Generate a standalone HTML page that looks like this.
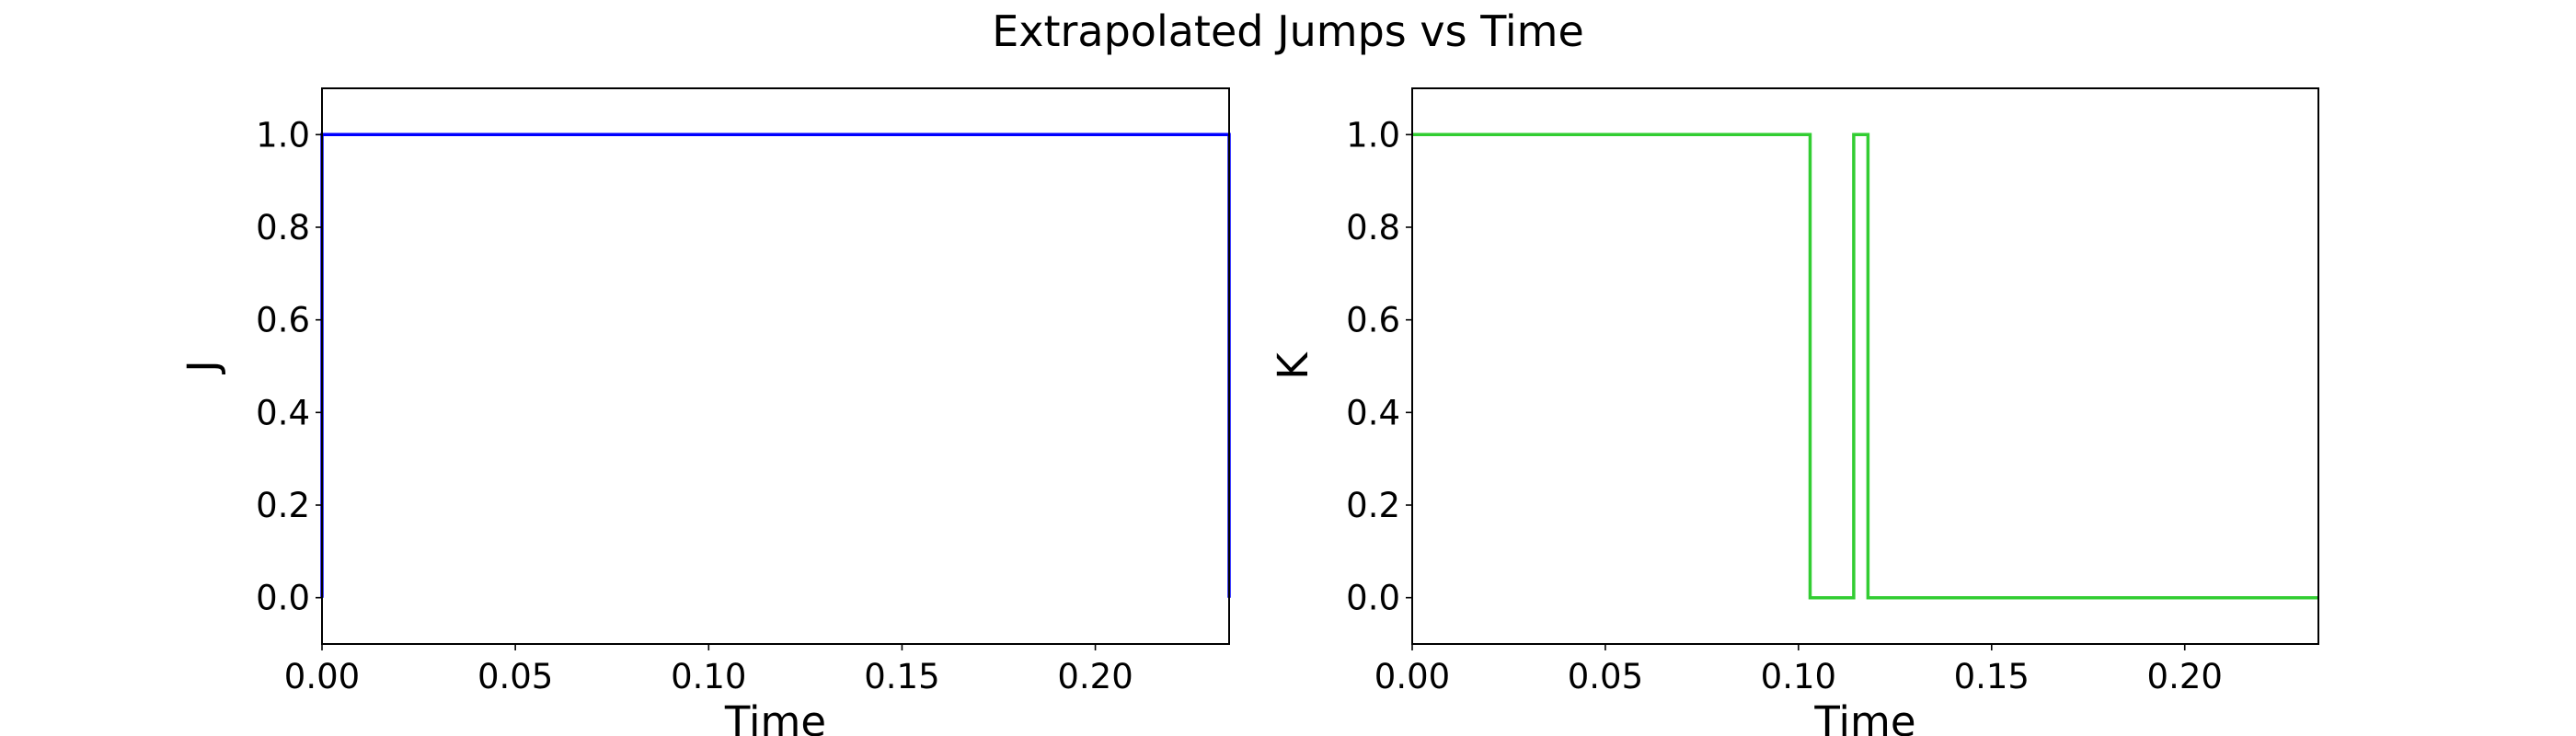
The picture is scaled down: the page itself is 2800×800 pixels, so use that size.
<!DOCTYPE html>
<html><head><meta charset="utf-8"><style>
body{margin:0;background:#fff}
svg{display:block;font-family:"DejaVu Sans","Liberation Sans",sans-serif}
</style></head><body>
<svg id="chart" width="2800" height="800" xmlns="http://www.w3.org/2000/svg">
<text x="1400" y="50" text-anchor="middle" font-size="46">Extrapolated Jumps vs Time</text>
</svg>
<script>
const xTicks=[0,0.05,0.10,0.15,0.20];
const xTickLabels=["0.00","0.05","0.10","0.15","0.20"];
const yTicks=[0,0.2,0.4,0.6,0.8,1.0];
const yTickLabels=["0.0","0.2","0.4","0.6","0.8","1.0"];
const jTimes=[0,0,0.2346,0.2346];
const jValues=[0,1,1,0];
const kTimes=[0,0.103,0.103,0.1143,0.1143,0.118,0.118,0.2346];
const kValues=[1,1,0,0,1,1,0,0];
const xMax=0.2346, yMin=-0.1, yMax=1.1;
const NS="http://www.w3.org/2000/svg";
const svg=document.getElementById('chart');
function mk(tag,attrs,parent){const e=document.createElementNS(NS,tag);for(const k in attrs)e.setAttribute(k,attrs[k]);(parent||svg).appendChild(e);return e;}
function panel(prefix,L,R,T,B,times,vals,color,ylabel){
  const sx=v=>L+(v/xMax)*(R-L);
  const sy=v=>B-(v-yMin)/(yMax-yMin)*(B-T);
  const g=mk('g',{});
  
  
  let d='';
  times.forEach((t,i)=>{d+=(i?'L':'M')+sx(t).toFixed(1)+' '+sy(vals[i]).toFixed(1)+' ';});
  const p=mk('path',{d:d,fill:'none',stroke:color,'stroke-width':3.5},g);
  
  
  const f=mk('rect',{x:L,y:T,width:R-L,height:B-T,fill:'none',stroke:'#000','stroke-width':2},g);
  
  
  xTicks.forEach((t,i)=>{
    const x=sx(t);
    mk('line',{x1:x,x2:x,y1:B,y2:B+7,stroke:'#000','stroke-width':1.6},g);
    const tx=mk('text',{x:x,y:B+48,'text-anchor':'middle','font-size':37},g);
    tx.textContent=xTickLabels[i];
    
    
  });
  yTicks.forEach((t,i)=>{
    const y=sy(t);
    mk('line',{x1:L-7,x2:L,y1:y,y2:y,stroke:'#000','stroke-width':1.6},g);
    const tx=mk('text',{x:L-13,y:y+13,'text-anchor':'end','font-size':37},g);
    tx.textContent=yTickLabels[i];
    
    
  });
  const xl=mk('text',{x:(L+R)/2,y:B+100,'text-anchor':'middle','font-size':45},g);
  xl.textContent='Time';
  
  
  const yx=L-114, yy=(T+B)/2;
  const yl=mk('text',{x:yx,y:yy,'text-anchor':'middle','font-size':45,transform:'rotate(-90 '+yx+' '+yy+')'},g);
  yl.textContent=ylabel;
  
  
}
panel('j',350,1336,96,700,jTimes,jValues,'#0000ff','J');
panel('k',1535,2520,96,700,kTimes,kValues,'#32cd32','K');
</script>
</body></html>
